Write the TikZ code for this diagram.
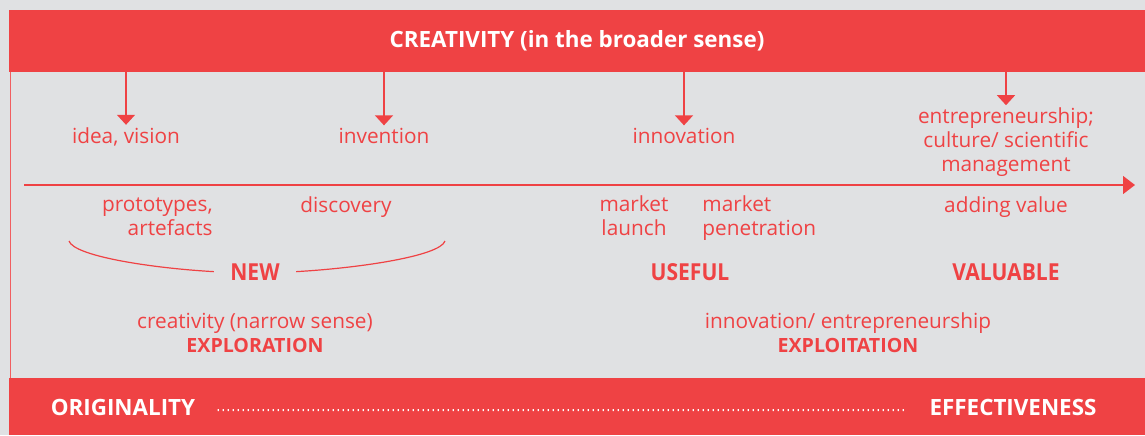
\documentclass[tikz,border=0pt]{standalone}
\usepackage{fontspec}
\setmainfont{Open Sans}
\newfontfamily\narrowhead[FakeStretch=0.9]{Open Sans}
\usetikzlibrary{arrows.meta}
\definecolor{brandred}{HTML}{EF4244}
\definecolor{panelgray}{HTML}{E0E1E3}

\begin{document}
\begin{tikzpicture}[x=0.5pt,y=-0.5pt,
  lbl/.style={text=brandred,font=\fontsize{10.4}{11.9}\selectfont,inner sep=1pt},
  keyword/.style={text=brandred,font=\narrowhead\bfseries\fontsize{11.7}{13}\selectfont,inner sep=1pt},
  subkey/.style={text=brandred,font=\bfseries\fontsize{9.8}{12}\selectfont,inner sep=1pt},
  foot/.style={text=white,font=\bfseries\fontsize{11.2}{12}\selectfont,inner ysep=1pt,inner xsep=0pt},
  bar/.style={fill=brandred,text=white,inner sep=0pt,minimum width=568pt},
  feed/.style={draw=brandred,line width=0.7pt,-{Triangle[width=9pt,length=5pt]}},
  brace/.style={draw=brandred,line width=0.6pt}]
  \useasboundingbox (0,0) rectangle (1145,435);
  \fill[panelgray] (0,0) rectangle (1145,435);
  \node[bar,minimum height=31pt,font=\bfseries\fontsize{11.2}{13}\selectfont] (band) at (577,41) {CREATIVITY (in the broader sense)};
  \node[bar,minimum height=28.5pt] (base) at (577,406.5) {};
  \draw[brandred!85,line width=0.6pt] ([xshift=1pt]band.south west) -- ([xshift=1pt]base.north west);

  \node[lbl,anchor=base] (idea) at (126,143) {idea, vision};
  \node[lbl,anchor=base] (invention) at (384,143) {invention};
  \node[lbl,anchor=base] (innov) at (684,143) {innovation};
  \node[lbl,anchor=base,align=center] (entre) at (1006,171) {entrepreneurship;\\culture/ scientific\\management};
  \draw[feed] (band.south -| idea) -- (idea.north);
  \draw[feed] (band.south -| invention) -- (invention.north);
  \draw[feed] (band.south -| innov) -- (innov.north);
  \draw[feed] (band.south -| entre) -- (entre.north);

  \coordinate (start) at (24,185);
  \coordinate (end) at (1135,185);
  \draw[draw=brandred,line width=0.7pt,-{Triangle[width=9pt,length=6pt]}] (start) -- (end);

  \node[lbl,anchor=base east,align=right] (proto) at (215,235) {prototypes,\\artefacts};
  \node[lbl,anchor=base] (disc) at (346,212) {discovery};
  \node[lbl,anchor=base,align=center] (launch) at (634,235) {market\\launch};
  \node[lbl,anchor=base west,align=left] (penet) at (700,235) {market\\penetration};
  \node[lbl,anchor=base] (adding) at (1006,212) {adding value};

  \node[keyword,anchor=base,inner xsep=8pt] (new) at (255,280) {NEW};
  \coordinate (bl) at (69,241);
  \coordinate (br) at (445,241);
  \draw[brace] (new.west) .. controls (150,268) and (74,256) .. (bl);
  \draw[brace] (new.east) .. controls (360,268) and (440,256) .. (br);
  \node[keyword,anchor=base] (useful) at (690,280) {USEFUL};
  \node[keyword,anchor=base] (valuable) at (1006,280) {VALUABLE};

  \node[lbl,anchor=base] (narrow) at (255,328) {creativity (narrow sense)};
  \node[subkey,anchor=base] (explor) at (255,352) {EXPLORATION};
  \node[lbl,anchor=base] (entship) at (848,328) {innovation/ entrepreneurship};
  \node[subkey,anchor=base] (exploit) at (848,352) {EXPLOITATION};

  \node[foot,anchor=base] (orig) at (123,415) {ORIGINALITY};
  \node[foot,anchor=base] (effect) at (1013,415) {EFFECTIVENESS};
  \draw[white,line width=1pt,dash pattern=on 0.6pt off 1.9pt] ([xshift=11pt,yshift=-1.5pt]orig.east) -- ([xshift=-11pt,yshift=-1.5pt]effect.west);
\end{tikzpicture}
\end{document}
